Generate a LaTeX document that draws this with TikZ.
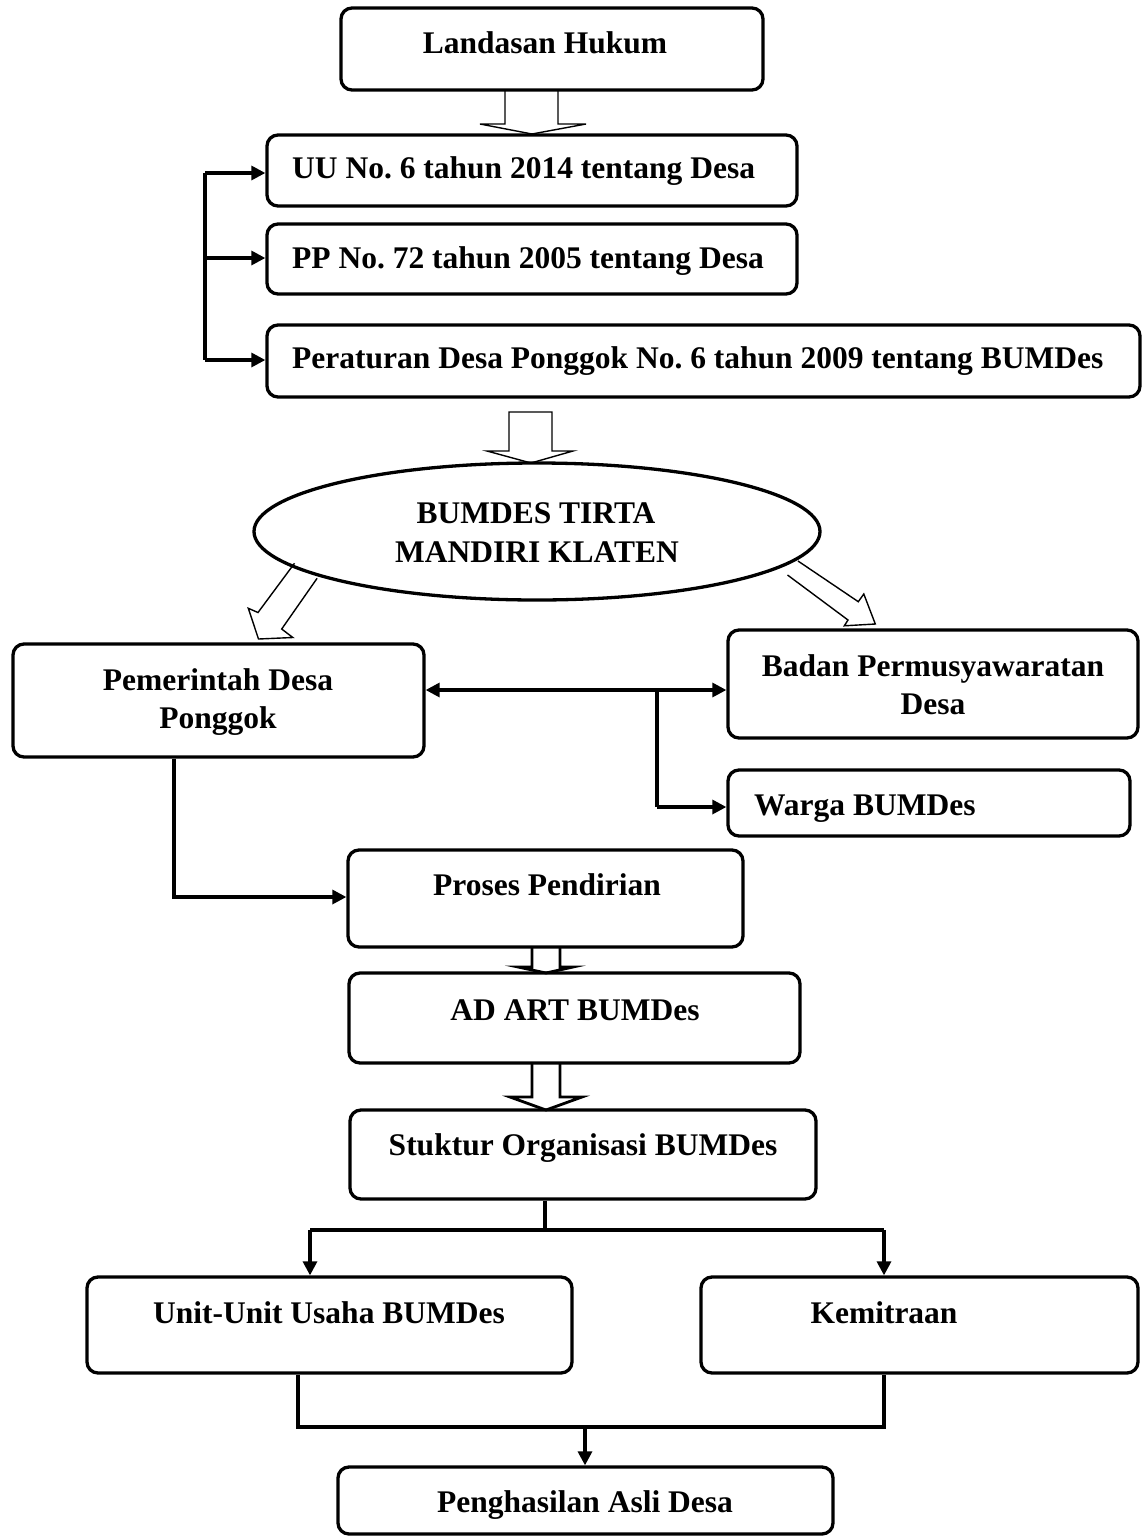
\documentclass[tikz,border=0pt]{standalone}
\usepackage{fontspec}
\setmainfont{Liberation Serif}
\frenchspacing
\usetikzlibrary{arrows.meta,shapes.geometric}
\tikzset{
  box/.style={draw, line width=3.3pt, rounded corners=11pt, inner sep=0pt},
  oval/.style={draw, ellipse, line width=3.3pt, inner sep=0pt},
  txt/.style={font=\fontsize{31.5}{38}\selectfont\bfseries, inner sep=0pt, anchor=base},
  ltxt/.style={txt, anchor=base west},
  conn/.style={line width=3.2pt},
  arr/.style={conn, -{Triangle[length=14pt,width=14pt]}},
  dblarr/.style={conn, {Triangle[length=14pt,width=14pt]}-{Triangle[length=14pt,width=14pt]}},
  thinblock/.style={line width=1.4pt, line join=miter},
  thickblock/.style={line width=2.8pt, line join=miter},
}
\begin{document}
\begin{tikzpicture}[x=1pt,y=-1pt]
\useasboundingbox (0,0) rectangle (1144,1537);

% boxes
\node[box, minimum width=422pt, minimum height=82pt] (land) at (552,49) {};
\node[box, minimum width=530pt, minimum height=71pt] (uu) at (532,170.5) {};
\node[box, minimum width=530pt, minimum height=70pt] (pp) at (532,259) {};
\node[box, minimum width=873pt, minimum height=72pt] (per) at (703.5,361) {};
\node[oval, minimum width=566pt, minimum height=137pt] (bumdes) at (537,531.5) {};
\node[box, minimum width=411pt, minimum height=113pt] (pem) at (218.5,700.5) {};
\node[box, minimum width=410pt, minimum height=108pt] (badan) at (933,684) {};
\node[box, minimum width=402pt, minimum height=66pt] (warga) at (929,803) {};
\node[box, minimum width=395pt, minimum height=97pt] (proses) at (545.5,898.5) {};
\node[box, minimum width=451pt, minimum height=90pt] (adart) at (574.5,1018) {};
\node[box, minimum width=466pt, minimum height=89pt] (stuktur) at (583,1154.5) {};
\node[box, minimum width=485pt, minimum height=96pt] (unit) at (329.5,1325) {};
\node[box, minimum width=437pt, minimum height=96pt] (kemit) at (919.5,1325) {};
\node[box, minimum width=495pt, minimum height=67pt] (peng) at (585.5,1500.5) {};

% texts
\node[txt] (land-t) at (545,53) {Landasan Hukum};
\node[ltxt] (uu-t) at (292,178) {UU No. 6 tahun 2014 tentang Desa};
\node[ltxt] (pp-t) at (292,268) {PP No. 72 tahun 2005 tentang Desa};
\node[ltxt] (per-t) at (292,368) {Peraturan Desa Ponggok No. 6 tahun 2009 tentang BUMDes};
\node[txt] (bumdes-t1) at (536,523) {BUMDES TIRTA};
\node[txt] (bumdes-t2) at (537,562) {MANDIRI KLATEN};
\node[txt] (pem-t1) at (218,690) {Pemerintah Desa};
\node[txt] (pem-t2) at (218,728) {Ponggok};
\node[txt] (badan-t1) at (933,676) {Badan Permusyawaratan};
\node[txt] (badan-t2) at (933,714) {Desa};
\node[ltxt] (warga-t) at (754,815) {Warga BUMDes};
\node[txt] (proses-t) at (547,895) {Proses Pendirian};
\node[txt] (adart-t) at (575,1020) {AD ART BUMDes};
\node[txt] (stuktur-t) at (583,1155) {Stuktur Organisasi BUMDes};
\node[txt] (unit-t) at (329,1323) {Unit-Unit Usaha BUMDes};
\node[txt] (kemit-t) at (884,1323) {Kemitraan};
\node[txt] (peng-t) at (585,1512) {Penghasilan Asli Desa};

% block arrows
\draw[thinblock] (505,90) -- (505,124) -- (480,124) -- (532,134) -- (586,124) -- (558,124) -- (558,90);
\draw[thinblock] (509,412) -- (552,412) -- (552,451) -- (573,451) -- (531,463) -- (487,451) -- (509,451) -- cycle;
\draw[thinblock] (294.5,563.3) -- (258,612.5) -- (248.3,608.3) -- (258.5,639) -- (292.8,637.5) -- (281.7,629) -- (317.1,578.3);
\draw[thinblock] (798,561) -- (858.3,601.7) -- (863.8,594) -- (875.3,624) -- (844.3,625.8) -- (848,620) -- (787.5,575);
\draw[thickblock] (532,947) -- (532,967) -- (518,967) -- (546,973) -- (573,967) -- (560,967) -- (560,947);
\draw[thickblock] (532,1063) -- (532,1097) -- (510,1097) -- (546,1110) -- (582,1097) -- (560,1097) -- (560,1063);

% bracket to legal bases
\coordinate (bk1) at (205,173);
\coordinate (bk2) at (205,258);
\coordinate (bk3) at (205,360);
\draw[conn] (bk1) -- (bk3);
\draw[arr] (bk1) -- (bk1 -| uu.west);
\draw[arr] (bk2) -- (bk2 -| pp.west);
\draw[arr] (bk3) -- (bk3 -| per.west);

% pemerintah <-> badan, warga
\coordinate (hj) at (657,690);
\coordinate (wj) at (657,807);
\draw[dblarr] (hj -| pem.east) -- (hj -| badan.west);
\draw[conn] (hj) -- (wj);
\draw[arr] (wj) -- (wj -| warga.west);

% pemerintah -> proses
\coordinate (pj) at (174,897);
\draw[arr] (pj |- pem.south) -- (pj) -- (pj -| proses.west);

% stuktur -> unit, kemitraan
\coordinate (sj) at (545,1230);
\coordinate (ul) at (310,1230);
\coordinate (kr) at (884,1230);
\draw[conn] (sj |- stuktur.south) -- (sj);
\draw[conn] (ul) -- (kr);
\draw[arr] (ul) -- (ul |- unit.north);
\draw[arr] (kr) -- (kr |- kemit.north);

% unit, kemitraan -> penghasilan
\coordinate (ub) at (298,1427);
\coordinate (kb) at (884,1427);
\coordinate (mb) at (585,1427);
\draw[conn] (ub |- unit.south) -- (ub) -- (kb) -- (kb |- kemit.south);
\draw[arr] (mb) -- (mb |- peng.north);
\end{tikzpicture}
\end{document}
